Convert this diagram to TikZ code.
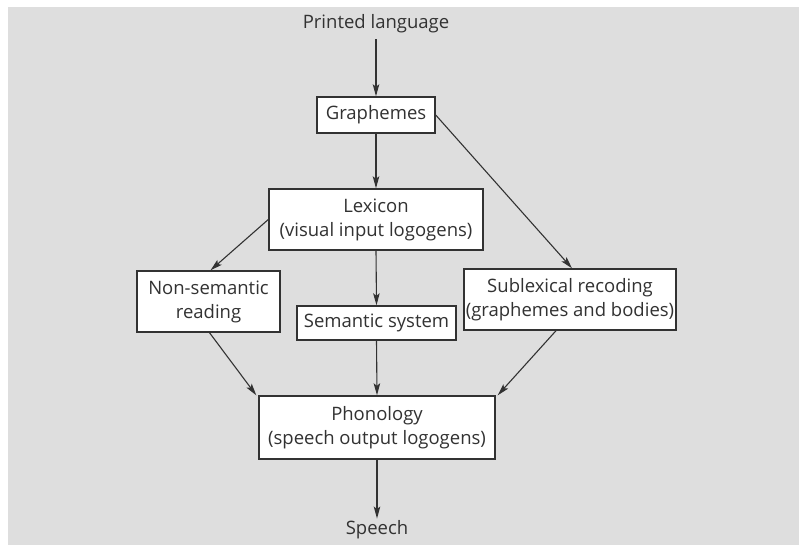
\documentclass[tikz,border=0pt]{standalone}
\usepackage{fontspec}
\setmainfont{Open Sans}
\usetikzlibrary{arrows.meta,calc}
\definecolor{bg}{RGB}{222,222,222}
\definecolor{ink}{RGB}{50,50,50}
\begin{document}
\begin{tikzpicture}[x=1pt,y=-1pt,
  box/.style={draw=ink, line width=1.4pt, fill=white, inner sep=0pt, align=center, text=ink, font=\fontsize{18.5}{24}\selectfont},
  lbl/.style={text=ink, inner sep=2pt, font=\fontsize{18.5}{24}\selectfont},
  arr/.style={draw=ink, line width=1.1pt, -{Stealth[length=12pt,width=6.5pt,inset=2.5pt]}}]
\useasboundingbox (0,0) rectangle (799,545);
\fill[white] (0,0) rectangle (799,545);
\fill[bg] (8,7) rectangle (799,545);

\node[lbl] (pl) at (376,24) {Printed language};
\node[box, minimum width=118pt, minimum height=36pt] (gr) at (376,115) {Graphemes};
\node[box, minimum width=214pt, minimum height=61pt] (lex) at (376,219.5) {Lexicon\\(visual input logogens)};
\node[box, minimum width=143pt, minimum height=61pt] (ns) at (208.5,301.5) {Non-semantic\\reading};
\node[box, minimum width=159pt, minimum height=34pt] (sem) at (376.5,323) {Semantic system};
\node[box, minimum width=212pt, minimum height=61pt] (sub) at (570,299.5) {Sublexical recoding\\(graphemes and bodies)};
\node[box, minimum width=236pt, minimum height=63pt] (ph) at (377,427.5) {Phonology\\(speech output logogens)};
\node[lbl] (sp) at (377,530) {Speech};

\draw[arr, shorten <=4pt] (pl.south) -- (gr.north);
\draw[arr] (gr.south) -- (lex.north);
\draw[arr] (gr.east) -- ([xshift=2pt]sub.north);
\draw[arr] (lex.west) -- ([xshift=2pt]ns.north);
\draw[arr] (lex.south) -- (sem.north);
\draw[arr] ([xshift=1pt]ns.south) -- ([xshift=-2pt]ph.north west);
\draw[arr] (sem.south) -- (ph.north);
\draw[arr] ([xshift=-14pt]sub.south) -- ([xshift=2pt]ph.north east);
\draw[arr] (ph.south) -- (sp.north);
\end{tikzpicture}
\end{document}
